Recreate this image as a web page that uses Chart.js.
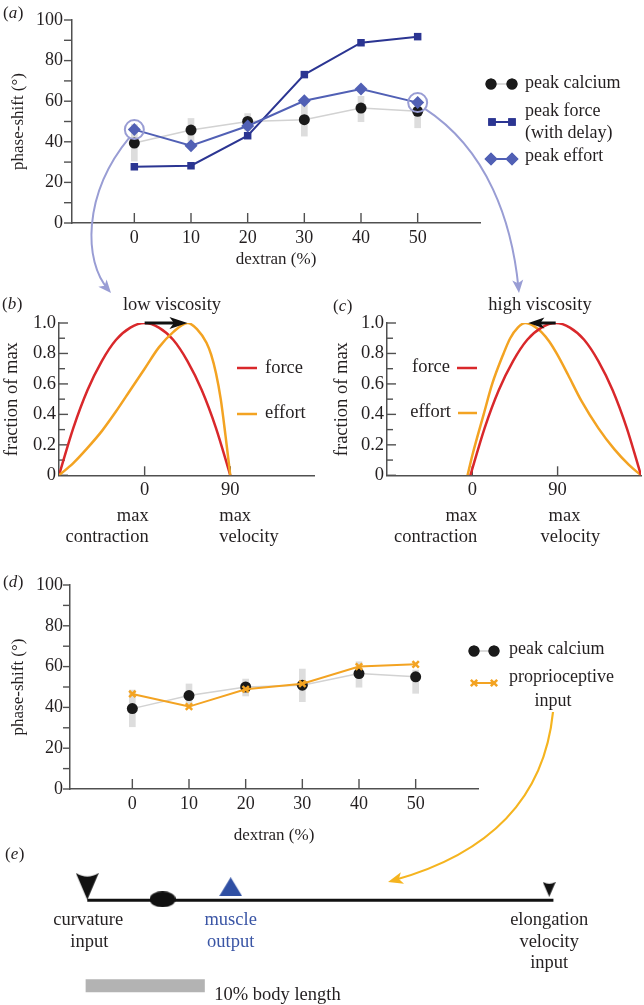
<!DOCTYPE html>
<html><head><meta charset="utf-8">
<script src="https://cdn.jsdelivr.net/npm/chart.js@4.4.1/dist/chart.umd.min.js"></script>
<style>
html,body{margin:0;padding:0;background:#fff;}
#wrap{position:relative;width:644px;height:1005px;overflow:hidden;background:#fff;}
canvas{position:absolute;}
</style></head><body>
<div id="wrap">
<canvas id="ca" style="left:0;top:0" width="644" height="274"></canvas>
<canvas id="cb" style="left:0;top:274px" width="322" height="278"></canvas>
<canvas id="cc" style="left:322px;top:274px" width="322" height="278"></canvas>
<canvas id="cd" style="left:0;top:552px" width="644" height="298"></canvas>
<canvas id="ce" style="left:0;top:840px" width="644" height="165"></canvas>
<canvas id="ov" style="left:0;top:0" width="644" height="1005"></canvas>
</div>
<script>
// ---------- data ----------
const dextran = [0, 10, 20, 30, 40, 50];
const phaseTicks = [0, 10, 20, 30, 40, 50, 60, 70, 80, 90, 100];
const calciumMean = [39.4, 45.8, 50.0, 50.9, 56.6, 55.0];
const calciumLow = [30.5, 40.3, 45.6, 42.8, 49.9, 46.9];
const calciumHigh = [48.5, 51.5, 53.9, 58.8, 62.4, 58.3];
const peakForce = [27.7, 28.2, 43.0, 73.1, 88.8, 91.8];
const peakEffort = [46.0, 38.1, 47.8, 60.2, 66.0, 59.3];
const proprioInput = [46.6, 40.4, 48.9, 51.6, 60.0, 61.1];

const fracTicks = [0, 0.1, 0.2, 0.3, 0.4, 0.5, 0.6, 0.7, 0.8, 0.9, 1.0];
const cycleTicks = [0, 90];
const lowForcePhase = [-90, -75, -60, -45, -30, -15, 0, 15, 30, 45, 60, 75, 90];
const lowForce = [0, 0.31, 0.56, 0.75, 0.89, 0.97, 1.0, 0.97, 0.89, 0.75, 0.56, 0.31, 0];
const lowEffortPhase = [-90, -75, -60, -45, -30, -15, 0, 15, 30, 45, 55, 65, 70, 75, 80, 85, 90];
const lowEffort = [0, 0.08, 0.18, 0.29, 0.42, 0.56, 0.70, 0.84, 0.94, 1.00, 0.96, 0.87, 0.79, 0.67, 0.50, 0.26, 0];
const highForcePhase = [-2, 13, 28, 43, 58, 73, 88, 103, 118, 133, 148, 163, 178];
const highForce = [0, 0.31, 0.56, 0.75, 0.89, 0.97, 1.0, 0.97, 0.89, 0.75, 0.56, 0.31, 0];
const highEffortPhase = [-5, 0, 12, 21, 33, 40, 48, 56, 65, 73, 81, 89, 101, 115, 133, 150, 165, 178];
const highEffort = [0, 0.13, 0.40, 0.60, 0.80, 0.90, 0.97, 1.00, 0.98, 0.94, 0.88, 0.80, 0.66, 0.49, 0.31, 0.17, 0.07, 0];

const landmarkPos = [0, 6.4, 12.2, 39.3];   // % body length
const bodyLength = 39.66;
const scaleBarLength = 10;

// ---------- style ----------
const FONT = '"Liberation Serif", "DejaVu Serif", serif';
const TXT = '#231f20';
const AX = '#505050';
const NAVY = '#2b3592', EFF = '#5160b5', PURP = '#999dd4';
const RED = '#d9282b', ORANGE = '#f3a322', ORANGE_ARROW = '#f5b41f';
const BLUE = '#2f4fa3';

function pts(xs, ys) { return xs.map((x, i) => ({x: x, y: ys[i]})); }
function txt(ctx, s, x, y, align, size, color, italic) {
  ctx.save();
  ctx.font = (italic ? 'italic ' : '') + size + 'px ' + FONT;
  ctx.fillStyle = color || TXT;
  ctx.textAlign = align || 'left';
  ctx.textBaseline = 'middle';
  ctx.fillText(s, x, y);
  ctx.restore();
}
function panelLabel(ctx, letter, x, y) {
  ctx.save();
  ctx.fillStyle = TXT; ctx.textBaseline = 'middle'; ctx.textAlign = 'left';
  ctx.font = '17px ' + FONT;
  ctx.fillText('(', x, y);
  let w = ctx.measureText('(').width;
  ctx.font = 'italic 17px ' + FONT;
  ctx.fillText(letter, x + w, y);
  w += ctx.measureText(letter).width;
  ctx.font = '17px ' + FONT;
  ctx.fillText(')', x + w + 0.5, y);
  ctx.restore();
}
function arrowHead(ctx, tx, ty, ang, len, half, color) {
  ctx.save();
  ctx.translate(tx, ty); ctx.rotate(ang);
  ctx.fillStyle = color;
  ctx.beginPath();
  ctx.moveTo(0, 0);
  ctx.lineTo(-len, -half);
  ctx.lineTo(-len * 0.75, 0);
  ctx.lineTo(-len, half);
  ctx.closePath();
  ctx.fill();
  ctx.restore();
}

const tickMarks = {
  id: 'tickMarks',
  beforeDatasetsDraw(chart, args, opts) {
    const ctx = chart.ctx, ca = chart.chartArea;
    ctx.save(); ctx.strokeStyle = AX; ctx.lineWidth = 1.4;
    if (opts.x) {
      const xs = chart.scales.x;
      xs.ticks.forEach(t => {
        const px = xs.getPixelForValue(t.value);
        ctx.beginPath(); ctx.moveTo(px, ca.bottom); ctx.lineTo(px, ca.bottom + opts.x.dir * opts.x.len); ctx.stroke();
      });
    }
    if (opts.y) {
      const ys = chart.scales.y;
      ys.ticks.forEach(t => {
        const py = ys.getPixelForValue(t.value);
        const len = t.label === '' ? opts.y.minor : opts.y.len;
        ctx.beginPath(); ctx.moveTo(ca.left, py); ctx.lineTo(ca.left + opts.y.dir * len, py); ctx.stroke();
      });
    }
    ctx.restore();
  }
};

function axisX(min, max, ticks, tickFont, pad, title, height, labelCb) {
  const o = {
    type: 'linear', min: min, max: max,
    grid: {display: false, drawTicks: false},
    border: {display: true, color: AX, width: 1.5},
    afterBuildTicks: s => { s.ticks = ticks.map(v => ({value: v})); },
    ticks: {font: {family: FONT, size: tickFont}, color: TXT, padding: pad, maxRotation: 0, autoSkip: false,
            callback: labelCb || (v => String(v))},
    afterFit: s => { s.height = height; }
  };
  if (title) o.title = {display: true, text: title, font: {family: FONT, size: 17}, color: TXT, padding: {top: 4, bottom: 4}};
  return o;
}
function axisY(min, max, ticks, tickFont, pad, title, width, labelCb, titleFont, titlePad) {
  return {
    min: min, max: max,
    grid: {display: false, drawTicks: false},
    border: {display: true, color: AX, width: 1.5},
    afterBuildTicks: s => { s.ticks = ticks.map(v => ({value: v})); },
    ticks: {font: {family: FONT, size: tickFont}, color: TXT, padding: pad, autoSkip: false, callback: labelCb},
    title: {display: true, text: title, font: {family: FONT, size: titleFont}, color: TXT, padding: {top: titlePad, bottom: titlePad}},
    afterFit: s => { s.width = width; }
  };
}
const baseOpts = {responsive: false, animation: false, devicePixelRatio: 1, events: []};
const H = Chart.helpers;

// ---------- panel (a) ----------
const legendA = {
  id: 'legendA',
  afterDraw(chart) {
    const ctx = chart.ctx;
    panelLabel(ctx, 'a', 3, 14);
    ctx.save();
    ctx.strokeStyle = '#cfcfcf'; ctx.lineWidth = 1.5;
    ctx.beginPath(); ctx.moveTo(491, 84); ctx.lineTo(512, 84); ctx.stroke();
    ctx.fillStyle = '#1a1a1a'; ctx.strokeStyle = '#1a1a1a';
    H.drawPoint(ctx, {pointStyle: 'circle', radius: 5.5, borderWidth: 0}, 491, 84); ctx.fill();
    H.drawPoint(ctx, {pointStyle: 'circle', radius: 5.5, borderWidth: 0}, 512, 84); ctx.fill();
    ctx.strokeStyle = NAVY; ctx.lineWidth = 2;
    ctx.beginPath(); ctx.moveTo(492, 122); ctx.lineTo(512, 122); ctx.stroke();
    ctx.fillStyle = NAVY;
    H.drawPoint(ctx, {pointStyle: 'rect', radius: 5.3, borderWidth: 0}, 492, 122); ctx.fill();
    H.drawPoint(ctx, {pointStyle: 'rect', radius: 5.3, borderWidth: 0}, 512, 122); ctx.fill();
    ctx.strokeStyle = EFF; ctx.lineWidth = 2;
    ctx.beginPath(); ctx.moveTo(491, 159); ctx.lineTo(512, 159); ctx.stroke();
    ctx.fillStyle = EFF;
    H.drawPoint(ctx, {pointStyle: 'rectRot', radius: 6.5, borderWidth: 0}, 491, 159); ctx.fill();
    H.drawPoint(ctx, {pointStyle: 'rectRot', radius: 6.5, borderWidth: 0}, 512, 159); ctx.fill();
    ctx.restore();
    txt(ctx, 'peak calcium', 525, 83, 'left', 18);
    txt(ctx, 'peak force', 525, 111, 'left', 18);
    txt(ctx, '(with delay)', 525, 133, 'left', 18);
    txt(ctx, 'peak effort', 525, 156, 'left', 18);
  }
};
const chartA = new Chart(document.getElementById('ca'), {
  type: 'line',
  data: {datasets: [
    {label: 'highlight', data: [{x: dextran[0], y: peakEffort[0]}, {x: dextran[5], y: peakEffort[5]}],
     showLine: false, pointRadius: 9.5, pointBackgroundColor: 'rgba(0,0,0,0)', pointBorderColor: PURP, pointBorderWidth: 2, order: 0},
    {label: 'peak effort', data: pts(dextran, peakEffort), borderColor: EFF, borderWidth: 2, pointStyle: 'rectRot',
     pointRadius: 6.5, pointBackgroundColor: EFF, pointBorderWidth: 0, order: 1},
    {label: 'peak force (with delay)', data: pts(dextran, peakForce), borderColor: NAVY, borderWidth: 2, pointStyle: 'rect',
     pointRadius: 5.3, pointBackgroundColor: NAVY, pointBorderWidth: 0, order: 2},
    {label: 'peak calcium', data: pts(dextran, calciumMean), borderColor: '#d2d2d2', borderWidth: 1.5,
     pointRadius: 5.5, pointBackgroundColor: '#1a1a1a', pointBorderWidth: 0, order: 3},
    {type: 'bar', label: 'calcium range', data: dextran.map((d, i) => ({x: d, y: [calciumLow[i], calciumHigh[i]]})),
     backgroundColor: '#dddddd', barThickness: 6, order: 4}
  ]},
  options: Object.assign({}, baseOpts, {
    layout: {padding: {left: 4, top: 20, right: 164, bottom: 0}},
    elements: {line: {tension: 0}},
    plugins: {legend: {display: false}, tooltip: {enabled: false}, tickMarks: {x: {len: 10, dir: -1}, y: {len: 8, minor: 8, dir: -1}}},
    scales: {
      x: axisX(-5, 55, dextran, 18, 4, 'dextran (%)', 51),
      y: axisY(0, 100, phaseTicks, 18, 9, 'phase-shift (°)', 68, v => (v % 20 === 0 ? String(v) : ''), 17, 4)
    }
  }),
  plugins: [tickMarks, legendA]
});

// ---------- panel (b) ----------
const annotB = {
  id: 'annotB',
  afterDraw(chart) {
    const ctx = chart.ctx, xs = chart.scales.x, ys = chart.scales.y;
    ctx.save(); ctx.translate(0, -274);
    panelLabel(ctx, 'b', 2, 305);
    txt(ctx, 'low viscosity', 172, 305, 'center', 18.5);
    ctx.lineWidth = 2.5;
    ctx.strokeStyle = RED; ctx.beginPath(); ctx.moveTo(237, 368); ctx.lineTo(257, 368); ctx.stroke();
    ctx.strokeStyle = ORANGE; ctx.beginPath(); ctx.moveTo(237, 414); ctx.lineTo(257, 414); ctx.stroke();
    txt(ctx, 'force', 265, 368, 'left', 18.5);
    txt(ctx, 'effort', 265, 413, 'left', 18.5);
    const p0 = xs.getPixelForValue(0), p90 = xs.getPixelForValue(90);
    txt(ctx, 'max', p0 + 4, 516, 'right', 18.5);
    txt(ctx, 'contraction', p0 + 4, 537, 'right', 18.5);
    txt(ctx, 'max', p90 - 11, 516, 'left', 18.5);
    txt(ctx, 'velocity', p90 - 11, 537, 'left', 18.5);
    ctx.restore();
    const fx = xs.getPixelForValue(lowForcePhase[lowForce.indexOf(Math.max(...lowForce))]);
    const ex = xs.getPixelForValue(lowEffortPhase[lowEffort.indexOf(Math.max(...lowEffort))]);
    const py = ys.getPixelForValue(1.0);
    ctx.save();
    ctx.strokeStyle = '#111'; ctx.lineWidth = 3;
    ctx.beginPath(); ctx.moveTo(fx, py); ctx.lineTo(ex - 12, py); ctx.stroke();
    arrowHead(ctx, ex, py, 0, 18, 6, '#111');
    ctx.restore();
  }
};
new Chart(document.getElementById('cb'), {
  type: 'line',
  data: {datasets: [
    {label: 'effort', data: pts(lowEffortPhase, lowEffort), borderColor: ORANGE, borderWidth: 2.5, pointRadius: 0, cubicInterpolationMode: 'monotone'},
    {label: 'force', data: pts(lowForcePhase, lowForce), borderColor: RED, borderWidth: 2.5, pointRadius: 0, cubicInterpolationMode: 'monotone'}
  ]},
  options: Object.assign({}, baseOpts, {
    layout: {padding: {left: 1, top: 49, right: 8, bottom: 0}},
    plugins: {legend: {display: false}, tooltip: {enabled: false}, tickMarks: {x: {len: 9, dir: -1}, y: {len: 9, minor: 6, dir: 1}}},
    scales: {
      x: axisX(-90, 178, cycleTicks, 18.5, 4, null, 76.7),
      y: axisY(0, 1, fracTicks, 18.5, 3, 'fraction of max', 58, v => (Math.round(v * 10) % 2 === 0 ? (v === 0 ? '0' : v.toFixed(1)) : ''), 18.5, 0)
    }
  }),
  plugins: [tickMarks, annotB]
});

// ---------- panel (c) ----------
const annotC = {
  id: 'annotC',
  afterDraw(chart) {
    const ctx = chart.ctx, xs = chart.scales.x, ys = chart.scales.y;
    ctx.save(); ctx.translate(-322, -274);
    panelLabel(ctx, 'c', 333, 307);
    txt(ctx, 'high viscosity', 540, 305, 'center', 18.5);
    ctx.lineWidth = 2.5;
    ctx.strokeStyle = RED; ctx.beginPath(); ctx.moveTo(457, 368); ctx.lineTo(477, 368); ctx.stroke();
    ctx.strokeStyle = ORANGE; ctx.beginPath(); ctx.moveTo(458, 413); ctx.lineTo(477, 413); ctx.stroke();
    txt(ctx, 'force', 450, 367, 'right', 18.5);
    txt(ctx, 'effort', 451, 412, 'right', 18.5);
    ctx.restore();
    const p0 = xs.getPixelForValue(0), p90 = xs.getPixelForValue(90);
    ctx.save(); ctx.translate(0, -274);
    txt(ctx, 'max', p0 + 5, 516, 'right', 18.5);
    txt(ctx, 'contraction', p0 + 5, 537, 'right', 18.5);
    txt(ctx, 'max', p90 - 9, 516, 'left', 18.5);
    txt(ctx, 'velocity', p90 - 17, 537, 'left', 18.5);
    ctx.restore();
    const fx = xs.getPixelForValue(highForcePhase[highForce.indexOf(Math.max(...highForce))]);
    const ex = xs.getPixelForValue(highEffortPhase[highEffort.indexOf(Math.max(...highEffort))]);
    const py = ys.getPixelForValue(1.0);
    ctx.save();
    ctx.strokeStyle = '#111'; ctx.lineWidth = 3;
    ctx.beginPath(); ctx.moveTo(fx, py); ctx.lineTo(ex + 10, py); ctx.stroke();
    arrowHead(ctx, ex + 3, py, Math.PI, 16, 5.5, '#111');
    ctx.restore();
  }
};
new Chart(document.getElementById('cc'), {
  type: 'line',
  data: {datasets: [
    {label: 'force', data: pts(highForcePhase, highForce), borderColor: RED, borderWidth: 2.5, pointRadius: 0, cubicInterpolationMode: 'monotone'},
    {label: 'effort', data: pts(highEffortPhase, highEffort), borderColor: ORANGE, borderWidth: 2.5, pointRadius: 0, cubicInterpolationMode: 'monotone'}
  ]},
  options: Object.assign({}, baseOpts, {
    layout: {padding: {left: 9, top: 49, right: 3, bottom: 0}},
    plugins: {legend: {display: false}, tooltip: {enabled: false}, tickMarks: {x: {len: 9, dir: -1}, y: {len: 9, minor: 6, dir: 1}}},
    scales: {
      x: axisX(-90, 178, cycleTicks, 18.5, 4, null, 76.7),
      y: axisY(0, 1, fracTicks, 18.5, 3, 'fraction of max', 56, v => (Math.round(v * 10) % 2 === 0 ? (v === 0 ? '0' : v.toFixed(1)) : ''), 18.5, 0)
    }
  }),
  plugins: [tickMarks, annotC]
});

// ---------- panel (d) ----------
const legendD = {
  id: 'legendD',
  afterDraw(chart) {
    const ctx = chart.ctx;
    ctx.save(); ctx.translate(0, -552);
    panelLabel(ctx, 'd', 3, 583);
    ctx.strokeStyle = '#cfcfcf'; ctx.lineWidth = 1.5;
    ctx.beginPath(); ctx.moveTo(474, 651); ctx.lineTo(494, 651); ctx.stroke();
    ctx.fillStyle = '#1a1a1a';
    H.drawPoint(ctx, {pointStyle: 'circle', radius: 5.5, borderWidth: 0}, 474, 651); ctx.fill();
    H.drawPoint(ctx, {pointStyle: 'circle', radius: 5.5, borderWidth: 0}, 494, 651); ctx.fill();
    ctx.strokeStyle = ORANGE; ctx.lineWidth = 2;
    ctx.beginPath(); ctx.moveTo(474, 683); ctx.lineTo(494, 683); ctx.stroke();
    ctx.lineWidth = 2.5;
    H.drawPoint(ctx, {pointStyle: 'crossRot', radius: 4.5, borderWidth: 2.5}, 474, 683);
    H.drawPoint(ctx, {pointStyle: 'crossRot', radius: 4.5, borderWidth: 2.5}, 494, 683);
    txt(ctx, 'peak calcium', 509, 649, 'left', 18);
    txt(ctx, 'proprioceptive', 509, 677, 'left', 18);
    txt(ctx, 'input', 553, 701, 'center', 18);
    ctx.restore();
  }
};
new Chart(document.getElementById('cd'), {
  type: 'line',
  data: {datasets: [
    {label: 'proprioceptive input', data: pts(dextran, proprioInput), borderColor: ORANGE, borderWidth: 2, pointStyle: 'crossRot',
     pointRadius: 4.5, pointBorderColor: ORANGE, pointBorderWidth: 2.5, order: 1},
    {label: 'peak calcium', data: pts(dextran, calciumMean), borderColor: '#d2d2d2', borderWidth: 1.5,
     pointRadius: 5.5, pointBackgroundColor: '#1a1a1a', pointBorderWidth: 0, order: 2},
    {type: 'bar', label: 'calcium range', data: dextran.map((d, i) => ({x: d, y: [calciumLow[i], calciumHigh[i]]})),
     backgroundColor: '#dddddd', barThickness: 6, order: 3}
  ]},
  options: Object.assign({}, baseOpts, {
    layout: {padding: {left: 4, top: 33, right: 166, bottom: 0}},
    elements: {line: {tension: 0}},
    plugins: {legend: {display: false}, tooltip: {enabled: false}, tickMarks: {x: {len: 10, dir: -1}, y: {len: 7, minor: 7, dir: -1}}},
    scales: {
      x: axisX(-5, 55, dextran, 18, 4, 'dextran (%)', 61),
      y: axisY(0, 100, phaseTicks, 18, 7, 'phase-shift (°)', 66, v => (v % 20 === 0 ? String(v) : ''), 17, 4)
    }
  }),
  plugins: [tickMarks, legendD]
});

// ---------- panel (e) ----------
function mk(w, h, draw) { const c = document.createElement('canvas'); c.width = w; c.height = h; draw(c.getContext('2d'), w, h); return c; }
const notched = (color) => (g, w, h) => { g.fillStyle = color; g.beginPath(); g.moveTo(0, 0); g.quadraticCurveTo(w / 2, h * 0.28, w, 0); g.lineTo(w / 2, h); g.closePath(); g.fill(); };
const markerImgs = [
  mk(23, 27, notched('#111')),
  mk(26, 16, (g, w, h) => { g.fillStyle = '#111'; g.beginPath(); g.ellipse(w / 2, h / 2, w / 2, h / 2, 0, 0, Math.PI * 2); g.fill(); }),
  mk(23, 19, (g, w, h) => { g.fillStyle = BLUE; g.beginPath(); g.moveTo(w / 2, 0); g.lineTo(w, h); g.lineTo(0, h); g.closePath(); g.fill(); }),
  mk(13, 15, notched('#111'))
];
const markerLift = [-16, -1, -15.5, -12.5];
const annotE = {
  id: 'annotE',
  afterDraw(chart) {
    const ctx = chart.ctx, xs = chart.scales.x;
    ctx.save(); ctx.translate(0, -840);
    panelLabel(ctx, 'e', 5, 855);
    const pc = xs.getPixelForValue(landmarkPos[0]);
    const pm = xs.getPixelForValue(landmarkPos[2]);
    const pe = xs.getPixelForValue(landmarkPos[3]);
    txt(ctx, 'curvature', pc + 1, 920, 'center', 18.5);
    txt(ctx, 'input', pc + 2, 942, 'center', 18.5);
    txt(ctx, 'muscle', pm, 920, 'center', 18.5, '#3a55a5');
    txt(ctx, 'output', pm, 942, 'center', 18.5, '#3a55a5');
    txt(ctx, 'elongation', pe, 920, 'center', 18.5);
    txt(ctx, 'velocity', pe, 942, 'center', 18.5);
    txt(ctx, 'input', pe, 963, 'center', 18.5);
    txt(ctx, '10% body length', xs.getPixelForValue(scaleBarLength) + 9.5, 995, 'left', 18.5);
    ctx.restore();
  }
};
new Chart(document.getElementById('ce'), {
  type: 'line',
  data: {datasets: [
    {label: 'landmarks', data: landmarkPos.map((p, i) => ({x: p, y: markerLift[i]})), showLine: false,
     pointStyle: markerImgs, pointRadius: 10},
    {label: 'body', data: [{x: 0, y: 0}, {x: bodyLength, y: 0}], borderColor: '#111', borderWidth: 3, pointRadius: 0, borderCapStyle: 'butt'},
    {label: 'scale bar', data: [{x: -0.14, y: 98.8}, {x: scaleBarLength, y: 98.8}], borderColor: '#b3b3b3', borderWidth: 13, pointRadius: 0, borderCapStyle: 'butt'}
  ]},
  options: Object.assign({}, baseOpts, {
    layout: {padding: 0},
    plugins: {legend: {display: false}, tooltip: {enabled: false}},
    scales: {
      x: {type: 'linear', display: false, min: -6.49, max: 46.43},
      y: {type: 'linear', display: false, min: -56.7, max: 108.3, reverse: true}
    }
  }),
  plugins: [annotE]
});

// ---------- connecting arrows ----------
(function () {
  const ctx = document.getElementById('ov').getContext('2d');
  const sx = chartA.scales.x, sy = chartA.scales.y;
  const c0 = {x: sx.getPixelForValue(dextran[0]), y: sy.getPixelForValue(peakEffort[0])};
  const c5 = {x: sx.getPixelForValue(dextran[5]), y: sy.getPixelForValue(peakEffort[5])};
  ctx.lineWidth = 2; ctx.strokeStyle = PURP;
  let s = {x: c0.x - 5, y: c0.y + 8}, a = {x: 82, y: 195}, b = {x: 84, y: 262}, e = {x: 111, y: 293};
  ctx.beginPath(); ctx.moveTo(s.x, s.y); ctx.bezierCurveTo(a.x, a.y, b.x, b.y, e.x - 3, e.y - 4); ctx.stroke();
  arrowHead(ctx, e.x, e.y, Math.atan2(e.y - b.y, e.x - b.x), 13, 5.5, PURP);
  s = {x: c5.x + 7, y: c5.y + 6}; a = {x: 488, y: 150}; b = {x: 512, y: 222}; e = {x: 519, y: 293};
  ctx.beginPath(); ctx.moveTo(s.x, s.y); ctx.bezierCurveTo(a.x, a.y, b.x, b.y, e.x - 0.5, e.y - 5); ctx.stroke();
  arrowHead(ctx, e.x, e.y, Math.atan2(e.y - b.y, e.x - b.x), 13, 5.5, PURP);
  ctx.strokeStyle = ORANGE_ARROW; ctx.lineWidth = 2.2;
  s = {x: 553, y: 712}; const q = {x: 540, y: 840}; e = {x: 388, y: 882};
  ctx.beginPath(); ctx.moveTo(s.x, s.y); ctx.quadraticCurveTo(q.x, q.y, e.x + 5, e.y - 1.5); ctx.stroke();
  arrowHead(ctx, e.x, e.y, Math.atan2(e.y - q.y, e.x - q.x), 15, 6, ORANGE_ARROW);
})();
</script>
</body></html>
